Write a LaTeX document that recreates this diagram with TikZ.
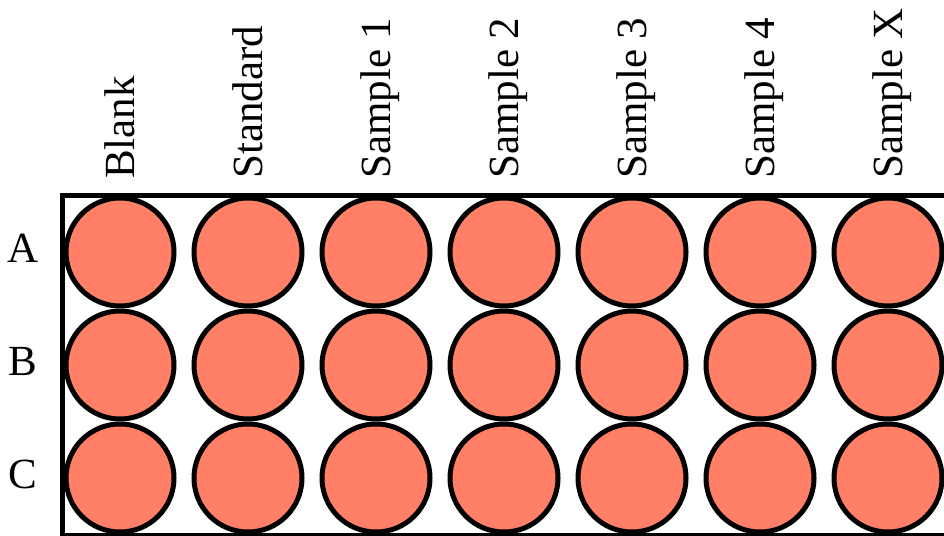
\documentclass[tikz,border=0pt]{standalone}
\usepackage{fontspec}
\setmainfont{Liberation Serif}
\definecolor{wellfill}{HTML}{FF8066}
\begin{document}
\begin{tikzpicture}[x=1pt,y=-1pt,
  well/.style={circle,draw=black,line width=5pt,fill=wellfill,minimum size=108pt,inner sep=0pt},
  collabel/.style={rotate=90,anchor=base west,inner sep=0pt,font=\fontsize{43}{50}\selectfont},
  rowlabel/.style={anchor=base,inner sep=0pt,font=\fontsize{43}{50}\selectfont},
  plate/.style={draw=black,line width=4.5pt}]
\useasboundingbox (0,0) rectangle (944,535);
\clip (0,0) rectangle (944,535);
\draw[plate] (62.5,195.5) rectangle (970,535.5);
\foreach \r/\y in {A/252,B/365,C/478}{
  \foreach \c in {1,...,7}{
    \node[well] (w-\r-\c) at ({120+128*(\c-1)},\y) {};
  }
  \node[rowlabel] (row-\r) at (23,\y+10) {\r};
}
\foreach \c/\t in {1/Blank,2/Standard,3/Sample 1,4/Sample 2,5/Sample 3,6/Sample 4,7/Sample X}{
  \node[collabel] (col-\c) at ({134+128*(\c-1)},179) {\t};
}
\end{tikzpicture}
\end{document}
